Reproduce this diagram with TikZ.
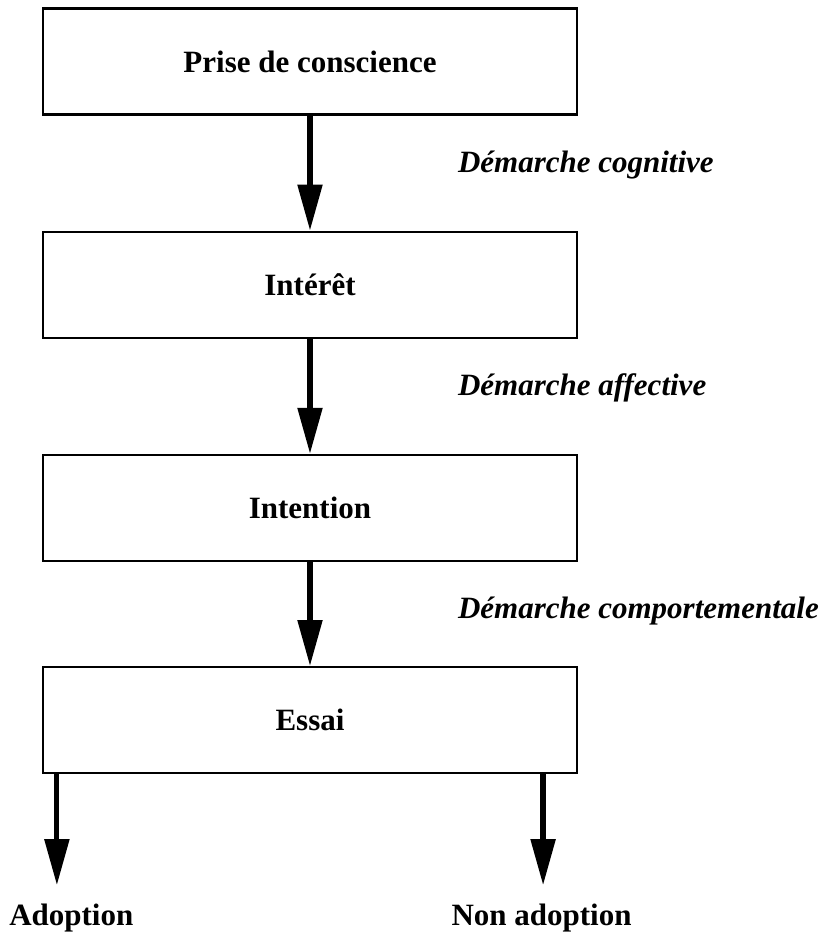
\documentclass[tikz,border=0pt]{standalone}
\usepackage{fontspec}
\setmainfont{Liberation Serif}
\usetikzlibrary{positioning,arrows.meta,calc}

\begin{document}
\begin{tikzpicture}[
    every node/.style={font=\fontsize{15.5}{18}\selectfont\bfseries},
    stage_node/.style={rectangle, draw, line width=1.1pt, minimum width=267pt, minimum height=53pt, inner sep=0pt},
    step_label/.style={anchor=west, font=\fontsize{15.5}{18}\selectfont\bfseries\itshape},
    flow/.style={draw, line width=2.6pt, -{Triangle[length=23pt, width=12pt]}}
]

% Stages
\node[stage_node] (prise) {Prise de conscience};
\node[stage_node, below=57.5pt of prise] (interet) {Intérêt};
\node[stage_node, below=57.5pt of interet] (intention) {Intention};
\node[stage_node, below=52pt of intention] (essai) {Essai};

\useasboundingbox ($(prise.center)+(-155pt,30.75pt)$) rectangle ($(prise.center)+(259.5pt,-436.25pt)$);

\draw[flow] (prise) -- (interet);
\draw[flow] (interet) -- (intention);
\draw[flow] (intention) -- (essai);

% Labels
\node[step_label] (cog) at ($(prise.south)+(70.5pt,-24.5pt)$) {Démarche cognitive};
\node[step_label] (aff) at ($(interet.south)+(70.5pt,-24.5pt)$) {Démarche affective};
\node[step_label] (comp) at ($(intention.south)+(70.5pt,-24.5pt)$) {Démarche comportementale};

% Outcomes
\coordinate (adopt_top) at ($(essai.south west)+(7.5pt,0)$);
\coordinate (adopt_tip) at ($(adopt_top)+(0,-55.5pt)$);
\coordinate (non_top) at ($(essai.south east)+(-17.5pt,0)$);
\coordinate (non_tip) at ($(non_top)+(0,-55.5pt)$);

\draw[flow] (adopt_top) -- (adopt_tip);
\draw[flow] (non_top) -- (non_tip);

\node[anchor=west, inner sep=0pt] (adopt) at ($(adopt_tip)+(-24pt,-16.5pt)$) {Adoption};
\node[inner sep=0pt] (non_adopt) at ($(non_tip)+(-0.75pt,-16.5pt)$) {Non adoption};

\end{tikzpicture}
\end{document}
